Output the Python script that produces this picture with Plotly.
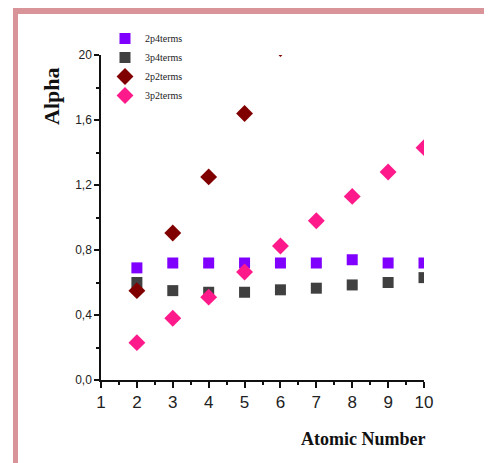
import plotly.graph_objects as go

atomic_number = [2, 3, 4, 5, 6, 7, 8, 9, 10]
alpha_2p4 = [0.69, 0.72, 0.72, 0.72, 0.72, 0.72, 0.74, 0.72, 0.72]
alpha_3p4 = [0.60, 0.55, 0.54, 0.54, 0.555, 0.565, 0.585, 0.60, 0.63]
alpha_2p2 = [0.55, 0.905, 1.25, 1.64, 2.04]
alpha_3p2 = [0.23, 0.38, 0.51, 0.665, 0.825, 0.98, 1.13, 1.28, 1.43]

series_names = ["2p4terms", "3p4terms", "2p2terms", "3p2terms"]
y_tickvals = [0.0, 0.4, 0.8, 1.2, 1.6, 2.0]
y_ticktext = ["0,0", "0,4", "0,8", "1,2", "1,6", "20"]
x_tickvals = [1, 2, 3, 4, 5, 6, 7, 8, 9, 10]

# page has an 8px body margin; work in figure coordinates = screen - 8
OFF = 8
W, H = 492 - OFF, 463 - OFF
L, R, T, B = 101 - OFF, 424 - OFF, 55 - OFF, 380 - OFF

fig = go.Figure()
fig.add_trace(go.Scatter(x=atomic_number, y=alpha_2p4, mode="markers", name=series_names[0],
                         marker=dict(symbol="square", size=11, color="#7F00FF")))
fig.add_trace(go.Scatter(x=atomic_number, y=alpha_3p4, mode="markers", name=series_names[1],
                         marker=dict(symbol="square", size=11, color="#404040")))
fig.add_trace(go.Scatter(x=atomic_number[:len(alpha_2p2)], y=alpha_2p2, mode="markers", name=series_names[2],
                         marker=dict(symbol="diamond", size=13, color="#800000")))
fig.add_trace(go.Scatter(x=atomic_number, y=alpha_3p2, mode="markers", name=series_names[3],
                         marker=dict(symbol="diamond", size=13, color="#FF1A8C")))


def px_x(p):
    return (p - OFF - L) / (R - L)


def px_y(p):
    return (B - (p - OFF)) / (B - T)


border = "#D99499"
fig.add_shape(type="rect", xref="paper", yref="paper", x0=px_x(13), x1=px_x(500),
              y0=px_y(14), y1=px_y(8), fillcolor=border, line=dict(width=0), layer="above")
fig.add_shape(type="rect", xref="paper", yref="paper", x0=px_x(13), x1=px_x(18),
              y0=px_y(470), y1=px_y(8), fillcolor=border, line=dict(width=0), layer="above")

fig.add_annotation(text="<b>Alpha</b>", xref="paper", yref="paper", x=px_x(51), y=px_y(97),
                   xanchor="center", yanchor="middle", showarrow=False, textangle=-90,
                   font=dict(family="Liberation Serif", size=22, color="#111111"))
fig.add_annotation(text="<b>Atomic Number</b>", xref="paper", yref="paper", x=px_x(363), y=px_y(439),
                   xanchor="center", yanchor="middle", showarrow=False,
                   font=dict(family="Liberation Serif", size=18, color="#111111"))

fig.update_layout(
    width=W, height=H,
    margin=dict(l=L, r=W - R, t=T, b=H - B),
    paper_bgcolor="white", plot_bgcolor="white",
    showlegend=True,
    legend=dict(x=px_x(105), y=px_y(24), xanchor="left", yanchor="top",
                font=dict(family="Liberation Serif", size=10, color="#222222"),
                bgcolor="rgba(0,0,0,0)", itemwidth=30, tracegroupgap=0),
    xaxis=dict(range=[1, 10], tickvals=x_tickvals, ticks="outside", ticklen=6, tickwidth=1.5,
               tickcolor="#111111", showline=True, linecolor="#111111", linewidth=1.5,
               showgrid=False, zeroline=False,
               tickfont=dict(family="Liberation Sans", size=17, color="#222222"),
               minor=dict(dtick=0.5, tick0=1, ticks="outside", ticklen=3, tickcolor="#111111")),
    yaxis=dict(range=[0, 2], tickvals=y_tickvals, ticktext=y_ticktext, ticks="outside", ticklen=5,
               tickwidth=1.5, tickcolor="#111111", showline=True, linecolor="#111111", linewidth=1.5,
               showgrid=False, zeroline=False,
               tickfont=dict(family="Liberation Sans", size=12, color="#222222"),
               minor=dict(dtick=0.2, tick0=0, ticks="outside", ticklen=3, tickcolor="#111111")),
)

fig.write_html("out.html")
